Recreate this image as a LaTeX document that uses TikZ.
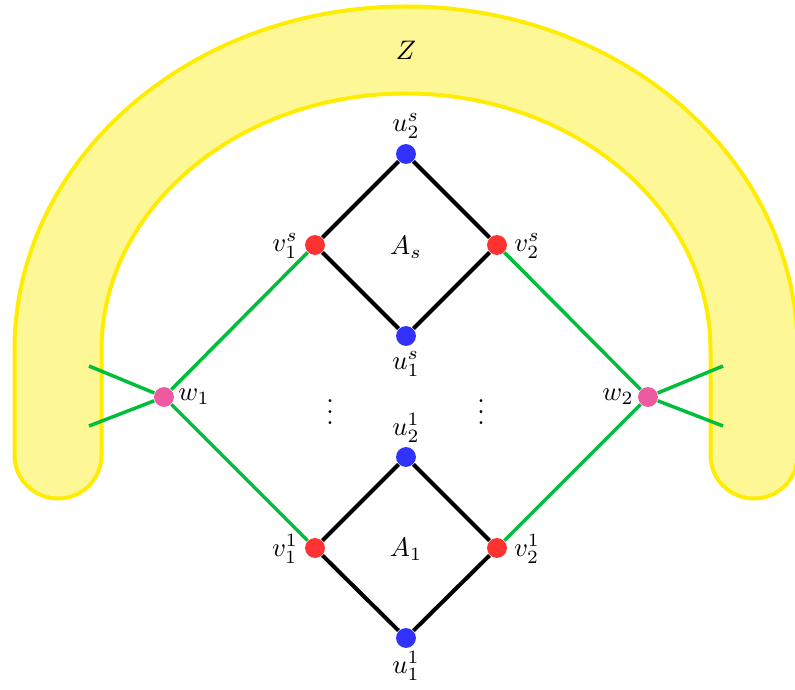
\documentclass[tikz,border=0pt]{standalone}
\usepackage{tikz}
\definecolor{bandborder}{RGB}{255,236,0}
\definecolor{bandfill}{RGB}{253,247,150}
\definecolor{edgegreen}{RGB}{0,190,60}
\definecolor{dotblue}{RGB}{50,50,255}
\definecolor{dotred}{RGB}{255,50,50}
\definecolor{dotpink}{RGB}{238,90,160}
\begin{document}
\begin{tikzpicture}[x=0.3731pt,y=-0.3731pt,
  dotnode/.style={circle,inner sep=0pt,minimum size=7.4pt},
  bluedot/.style={dotnode,fill=dotblue},
  reddot/.style={dotnode,fill=dotred},
  pinkdot/.style={dotnode,fill=dotpink},
  lbl/.style={inner sep=0pt},
  blackedge/.style={line width=1.5pt,black},
  greenedge/.style={line width=1.3pt,edgegreen}]
\useasboundingbox (0,0) rectangle (795,690);
% band Z
\draw[line width=91*0.3731pt,bandborder,line cap=round]
  (58,455) -- (58,350) arc[start angle=180,end angle=0,x radius=348,y radius=-300] -- (754,455);
\draw[line width=83*0.3731pt,bandfill,line cap=round]
  (58,455) -- (58,350) arc[start angle=180,end angle=0,x radius=348,y radius=-300] -- (754,455);
\node[lbl] (Z) at (406,50) {$Z$};
% nodes
\node[bluedot] (u2s) at (406,154) {};
\node[reddot] (v1s) at (315,245) {};
\node[reddot] (v2s) at (497,245) {};
\node[bluedot] (u1s) at (406,336) {};
\node[bluedot] (u21) at (406,457) {};
\node[reddot] (v11) at (315,548) {};
\node[reddot] (v21) at (497,548) {};
\node[bluedot] (u11) at (406,638) {};
\node[pinkdot] (w1) at (164,397) {};
\node[pinkdot] (w2) at (648,397) {};
\coordinate (l1) at (89,366);
\coordinate (l2) at (89,426);
\coordinate (r1) at (723,366);
\coordinate (r2) at (723,426);
% edges
\draw[blackedge] (u2s) -- (v1s) -- (u1s) -- (v2s) -- (u2s);
\draw[blackedge] (u21) -- (v11) -- (u11) -- (v21) -- (u21);
\draw[greenedge] (w1) -- (v1s);
\draw[greenedge] (w1) -- (v11);
\draw[greenedge] (w2) -- (v2s);
\draw[greenedge] (w2) -- (v21);
\draw[greenedge] (w1) -- (l1);
\draw[greenedge] (w1) -- (l2);
\draw[greenedge] (w2) -- (r1);
\draw[greenedge] (w2) -- (r2);
% labels
\node[lbl] (tu2s) at (406,126) {$u_2^s$};
\node[lbl] (tv1s) at (285,246) {$v_1^s$};
\node[lbl] (tv2s) at (527,246) {$v_2^s$};
\node[lbl] (tu1s) at (406,364) {$u_1^s$};
\node[lbl] (tAs) at (406,247) {$A_s$};
\node[lbl] (tu21) at (406,428) {$u_2^1$};
\node[lbl] (tv11) at (285,549) {$v_1^1$};
\node[lbl] (tv21) at (527,549) {$v_2^1$};
\node[lbl] (tu11) at (406,666) {$u_1^1$};
\node[lbl] (tA1) at (406,549) {$A_1$};
\node[lbl] (tw1) at (194,397) {$w_1$};
\node[lbl] (tw2) at (618,397) {$w_2$};
\node[lbl] (d1) at (330,404) {$\vdots$};
\node[lbl] (d2) at (481,404) {$\vdots$};
\end{tikzpicture}
\end{document}
